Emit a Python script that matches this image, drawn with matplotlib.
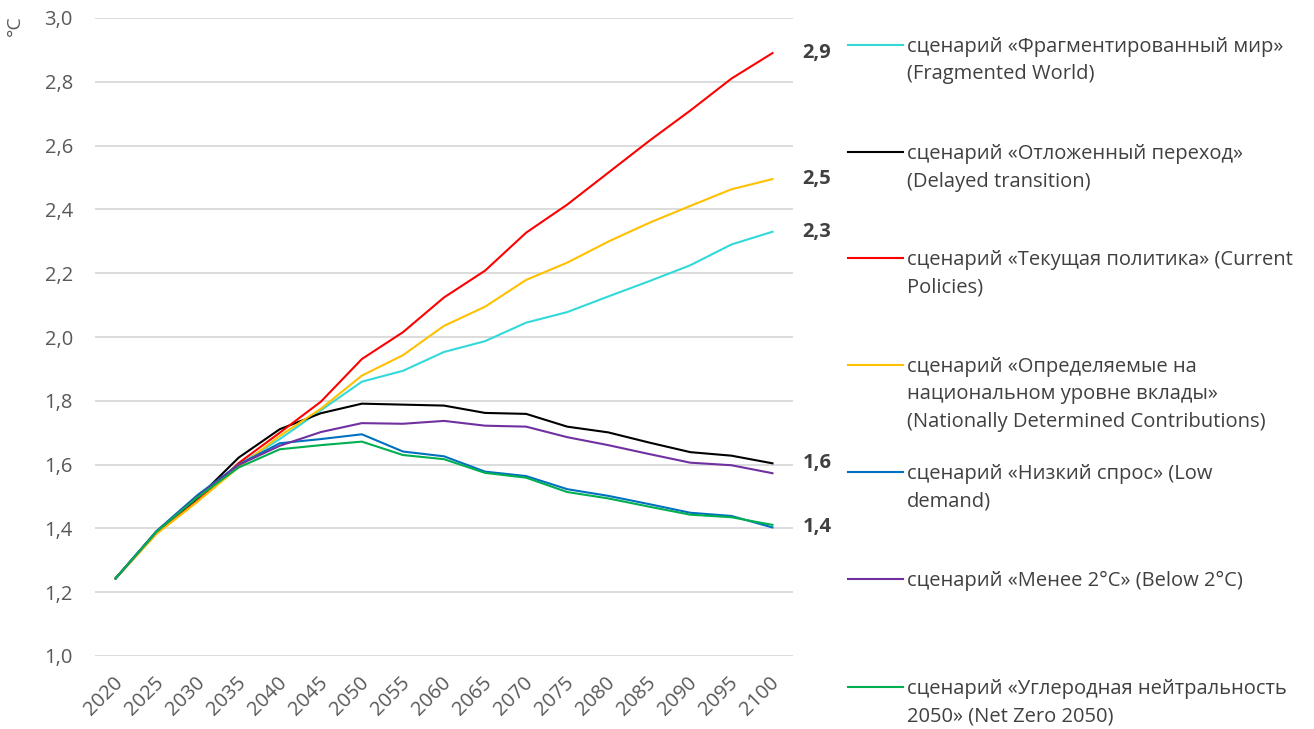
import matplotlib
matplotlib.use("Agg")
import matplotlib.pyplot as plt
from matplotlib.lines import Line2D
import matplotlib.transforms as mtrans

years = ["2020", "2025", "2030", "2035", "2040", "2045", "2050", "2055", "2060",
         "2065", "2070", "2075", "2080", "2085", "2090", "2095", "2100"]

fragmented = [1.243, 1.390, 1.500, 1.600, 1.680, 1.770, 1.860, 1.894, 1.953,
              1.987, 2.045, 2.078, 2.127, 2.175, 2.225, 2.290, 2.330]
delayed = [1.243, 1.390, 1.495, 1.622, 1.711, 1.761, 1.791, 1.788, 1.785,
           1.762, 1.759, 1.719, 1.701, 1.669, 1.639, 1.628, 1.604]
current = [1.243, 1.385, 1.486, 1.605, 1.700, 1.797, 1.931, 2.015, 2.124,
           2.208, 2.327, 2.415, 2.515, 2.615, 2.710, 2.810, 2.890]
ndc = [1.243, 1.383, 1.484, 1.592, 1.690, 1.775, 1.879, 1.943, 2.035,
       2.095, 2.179, 2.233, 2.299, 2.358, 2.411, 2.463, 2.495]
low_demand = [1.243, 1.392, 1.505, 1.600, 1.667, 1.680, 1.695, 1.641, 1.626,
              1.578, 1.564, 1.523, 1.502, 1.476, 1.449, 1.439, 1.403]
below2 = [1.243, 1.390, 1.500, 1.599, 1.659, 1.702, 1.730, 1.728, 1.737,
          1.722, 1.719, 1.686, 1.661, 1.633, 1.606, 1.598, 1.573]
netzero = [1.243, 1.390, 1.498, 1.591, 1.648, 1.661, 1.672, 1.630, 1.617,
           1.574, 1.559, 1.514, 1.494, 1.468, 1.443, 1.435, 1.411]

series = [fragmented, delayed, current, ndc, low_demand, below2, netzero]
colors = ["#33D9D9", "#000000", "#FF0000", "#FFC000", "#0070C0", "#7030A0", "#00B050"]
legend_texts = [
    "сценарий «Фрагментированный мир»\n(Fragmented World)",
    "сценарий «Отложенный переход»\n(Delayed transition)",
    "сценарий «Текущая политика» (Current\nPolicies)",
    "сценарий «Определяемые на\nнациональном уровне вклады»\n(Nationally Determined Contributions)",
    "сценарий «Низкий спрос» (Low\ndemand)",
    "сценарий «Менее 2°C» (Below 2°C)",
    "сценарий «Углеродная нейтральность\n2050» (Net Zero 2050)",
]
end_labels = ["2,9", "2,5", "2,3", "1,6", "1,4"]
end_values = [2.89, 2.495, 2.33, 1.604, 1.405]
yticks = [1.0, 1.2, 1.4, 1.6, 1.8, 2.0, 2.2, 2.4, 2.6, 2.8, 3.0]

plt.rcParams['font.family'] = ['Open Sans', 'DejaVu Sans']
W, H = 1314, 729
fig = plt.figure(figsize=(W / 100, H / 100), dpi=100)
ax = fig.add_axes([95 / W, 1 - 656 / H, (793 - 95) / W, (656 - 18) / H])

x = list(range(len(years)))
draw_order = [2, 3, 0, 1, 5, 4, 6]
for i in draw_order:
    ax.plot(x, series[i], color=colors[i], lw=1.5, zorder=3 + i * 0.01)

ax.set_xlim(-0.5, len(years) - 0.5)
ax.set_ylim(1.0, 3.0)
ax.set_yticks(yticks)
ax.set_yticklabels([f"{v:.1f}".replace(".", ",") for v in yticks])
ax.set_xticks(x)
ax.set_xticklabels(years, rotation=45, ha="right", va="center", rotation_mode="anchor")
ax.grid(axis="y", color="#D9D9D9", lw=1.3)
ax.set_axisbelow(True)
for s in ax.spines.values():
    s.set_visible(False)
ax.tick_params(axis="both", length=0, labelsize=14.5, colors="#595959")
ax.tick_params(axis="y", pad=16)
ax.tick_params(axis="x", pad=17)
for lbl in ax.get_xticklabels():
    lbl.set_transform(lbl.get_transform() + mtrans.ScaledTranslation(4 / 100, 0, fig.dpi_scale_trans))

fig.text(15 / W, 1 - 26 / H, "°C", rotation=90, ha="center", va="center",
         fontsize=14, color="#595959")

for lab, v in zip(end_labels, end_values):
    ax.annotate(lab, xy=(1.0, v), xycoords=("axes fraction", "data"),
                xytext=(7, 0), textcoords="offset points", ha="left", va="center",
                fontsize=14.5, fontweight="bold", color="#404040")

legend_y = [45, 152, 258, 365, 472, 579, 687]
for i, (txt, yy) in enumerate(zip(legend_texts, legend_y)):
    fy = 1 - yy / H
    fig.add_artist(Line2D([848 / W, 903 / W], [fy, fy], color=colors[i], lw=1.5,
                          transform=fig.transFigure))
    fig.text(907 / W, 1 - (yy - 8) / H, txt, ha="left", va="top", fontsize=14.5,
             color="#404040", linespacing=1.5)

fig.savefig("out.png", dpi=100)
